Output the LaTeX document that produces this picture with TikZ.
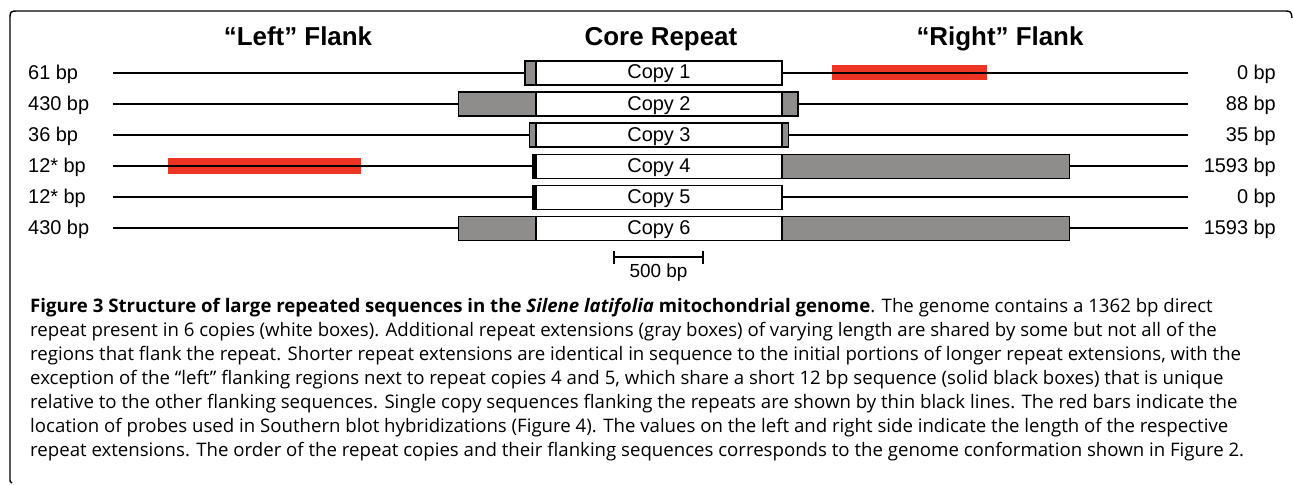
\documentclass[tikz,border=0pt]{standalone}
\usepackage{fontspec}
\setmainfont{Liberation Sans}
\newfontfamily\capfont{Open Sans}
\definecolor{grayext}{RGB}{142,141,139}
\definecolor{probe}{RGB}{238,53,36}
\tikzset{
  frame/.style={line width=1.4bp, black},
  flank/.style={line width=2bp, black},
  corebox/.style={draw, line width=1.4bp, fill=white, minimum width=246bp, minimum height=24bp, inner sep=0pt},
  extbox/.style={draw, line width=1.4bp, fill=grayext},
  uniqbox/.style={draw, line width=1.2bp, fill=black},
  probebar/.style={fill=probe},
  lbl/.style={font=\fontsize{20}{24}\selectfont, inner sep=0pt},
  copytxt/.style={font=\fontsize{20}{24}\selectfont},
  heading/.style={font=\fontsize{26}{30}\selectfont\bfseries, inner sep=0pt},
  captxt/.style={font=\capfont\fontsize{18.7}{24}\selectfont, inner sep=0pt, anchor=base west},
  scalebar/.style={line width=1.6bp, black}
}
\begin{document}
\begin{tikzpicture}[x=1bp,y=-1bp]
\useasboundingbox (0,0) rectangle (1293,485);
% frame
\draw[frame] (12,483) .. controls (10,482) .. (10,478) -- (10,20) .. controls (10,11) .. (19,11) -- (1283,11) .. controls (1291,11) .. (1292,18);
% headings
\node[heading, anchor=base] (hl) at (298,46) {“Left” Flank};
\node[heading, anchor=base] (hc) at (661,46) {Core Repeat};
\node[heading, anchor=base] (hr) at (1000,46) {“Right” Flank};
% probes (under the lines)
\fill[probebar] (832,65.5) rectangle (987,80.5);
\fill[probebar] (168,158.3) rectangle (361,174.3);
% flank lines
\foreach \i/\y in {1/73,2/104.1,3/135.2,4/166.3,5/197.4,6/228.5}{
  \coordinate (ls\i) at (113,\y);
  \coordinate (le\i) at (1188,\y);
  \draw[flank] (ls\i) -- (le\i);
}
% row 1
\draw[extbox] (525,61) rectangle (536,85);
% row 2
\draw[extbox] (458.3,92.1) rectangle (536,116.1);
\draw[extbox] (782,92.1) rectangle (797.9,116.1);
% row 3
\draw[extbox] (529.5,123.2) rectangle (536,147.2);
\draw[extbox] (782,123.2) rectangle (788.3,147.2);
% row 4
\draw[uniqbox] (532.8,154.3) rectangle (536,178.3);
\draw[extbox] (782,154.3) rectangle (1069.7,178.3);
% row 5
\draw[uniqbox] (532.8,185.4) rectangle (536,209.4);
% row 6
\draw[extbox] (458.3,216.5) rectangle (536,240.5);
\draw[extbox] (782,216.5) rectangle (1069.7,240.5);
% core repeat copies
\foreach \i/\y in {1/73,2/104.1,3/135.2,4/166.3,5/197.4,6/228.5}{
  \node[corebox] (c\i) at (659,\y) {};
  \node[copytxt, anchor=base] (t\i) at (659,\y+6) {Copy \i};
}
% left labels
\foreach \i/\y/\t in {1/73/61 bp,2/104.1/430 bp,3/135.2/36 bp,4/166.3/12* bp,5/197.4/12* bp,6/228.5/430 bp}{
  \node[lbl, anchor=base west] (l\i) at (28,\y+6.5) {\t};
}
% right labels
\foreach \i/\y/\t in {1/73/0 bp,2/104.1/88 bp,3/135.2/35 bp,4/166.3/1593 bp,5/197.4/0 bp,6/228.5/1593 bp}{
  \node[lbl, anchor=base east] (r\i) at (1276,\y+6.5) {\t};
}
% scale bar
\coordinate (sa) at (614,257);
\coordinate (sb) at (703,257);
\draw[scalebar] (sa) -- (sb);
\draw[scalebar] ([yshift=6bp]sa) -- ([yshift=-7bp]sa);
\draw[scalebar] ([yshift=6bp]sb) -- ([yshift=-7bp]sb);
\node[lbl, anchor=base, font=\fontsize{19}{23}\selectfont] (sl) at (658.5,278) {500 bp};
% caption
\node[captxt] (cap1) at (30,312.5) {\textbf{Figure 3 Structure of large repeated sequences in the \textit{Silene latifolia} mitochondrial genome}. The genome contains a 1362 bp direct};
\node[captxt] (cap2) at (30,336.5) {repeat present in 6 copies (white boxes). Additional repeat extensions (gray boxes) of varying length are shared by some but not all of the};
\node[captxt] (cap3) at (30,360.5) {regions that flank the repeat. Shorter repeat extensions are identical in sequence to the initial portions of longer repeat extensions, with the};
\node[captxt] (cap4) at (30,384.5) {exception of the “left” flanking regions next to repeat copies 4 and 5, which share a short 12 bp sequence (solid black boxes) that is unique};
\node[captxt] (cap5) at (30,408.5) {relative to the other flanking sequences. Single copy sequences flanking the repeats are shown by thin black lines. The red bars indicate the};
\node[captxt] (cap6) at (30,432.5) {location of probes used in Southern blot hybridizations (Figure 4). The values on the left and right side indicate the length of the respective};
\node[captxt] (cap7) at (30,456.5) {repeat extensions. The order of the repeat copies and their flanking sequences corresponds to the genome conformation shown in Figure 2.};
\end{tikzpicture}
\end{document}
